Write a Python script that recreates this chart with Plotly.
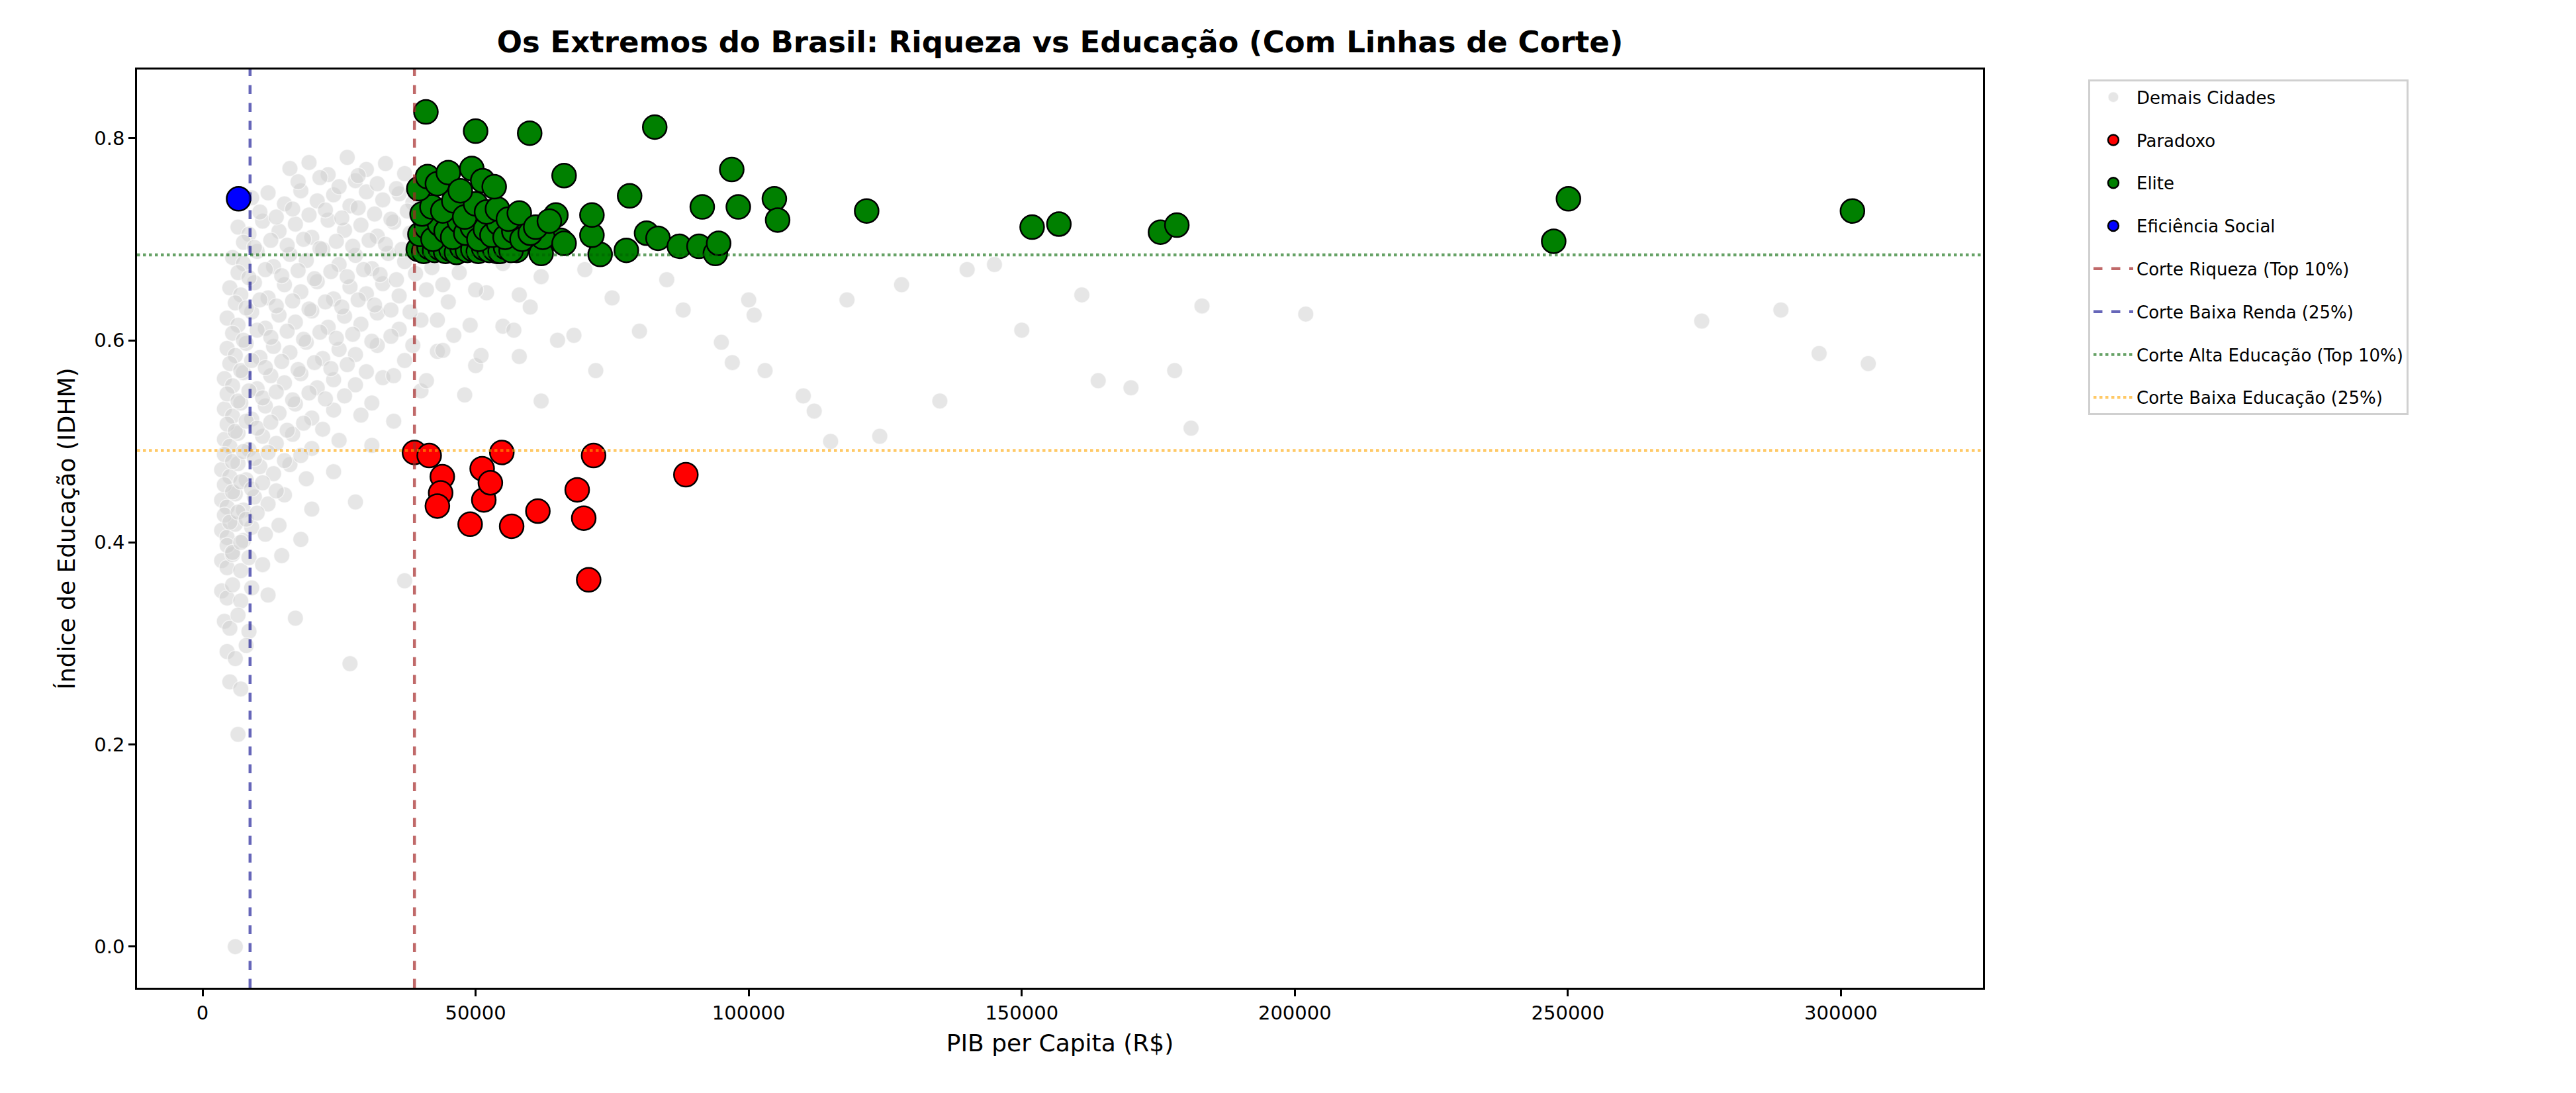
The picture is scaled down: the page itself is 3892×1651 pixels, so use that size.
import plotly.graph_objects as go

# ---- data ----
gray_x = [
 16000,19500,23000,26500,30000,33500,37000,28000,
 9000,12000,15000,18000,21000,24000,27000,30000,33000,36000,38500,
 6500,8500,11000,14000,17000,20000,23000,26000,29000,32000,35000,38000,
 5500,7500,10000,13000,16000,19000,22000,25000,28000,31000,34000,37000,42000,47000,55000,62000,70000,85000,
 5000,7000,9500,12000,15000,18000,21000,24000,27000,30000,33000,36000,41000,45000,52000,60000,75000,88000,100000,
 4500,6500,9000,11500,14000,17000,20000,23000,26000,29000,32000,36000,40000,46000,55000,65000,80000,95000,
 4500,6000,8000,10500,13000,16000,19000,22000,25000,28000,32000,37000,43000,50000,58000,72000,97000,
 4000,5500,7500,10000,12500,15000,18000,21000,24000,28000,33000,40000,48000,62000,
 4000,5500,7000,9000,11500,14000,17000,20000,24000,29000,35000,
 4000,5000,6500,8500,11000,13500,16500,20000,25000,31000,
 3500,5000,6500,8000,10500,13000,16000,19000,24000,
 3500,4500,6000,7500,9500,12000,15000,20000,28000,
 3500,4500,6000,7500,9000,11500,14000,18000,
 3500,4500,5500,7000,8500,11000,14500,37000,
 3500,4500,5500,7000,9000,12000,
 4000,5000,6500,8500,17000,
 4500,6000,8000,27000,
 5000,7000,6500,6000,
 274500,289000,296000,305000,202000,181000,178000,183000,170000,164000,161000,150000,
 135000,140000,124000,115000,112000,110000,101000,103000,118000,128000,145000,
 # denser core
 17500,21500,25000,28500,32000,35500,
 10500,13500,16500,19500,22500,25500,28500,31500,34500,37500,
 7500,9500,12500,15500,18500,21500,24500,27500,30500,33500,36500,
 6500,8500,11500,14500,17500,20500,23500,26500,29500,32500,35500,39000,44000,50000,58000,
 6000,8000,10500,13500,16500,19500,22500,25500,28500,31500,34500,38000,43000,49000,57000,68000,
 5500,7500,10000,12500,15500,18500,21500,24500,27500,31000,34500,38500,44000,51000,
 5000,7000,9000,11500,14500,17500,20500,23500,26500,30000,35000,41000,
 4500,6500,8500,11000,13500,16500,19500,22500,26000,31000,
 4500,6000,8000,10000,12500,15500,18500,22000,
 4000,5500,7500,9500,12000,15000,18000,
 4000,5500,7000,9000,11000,13500,
 4000,5000,6500,8000,10000,
 4500,5500,7000,
]
gray_y = [
 0.770,0.776,0.764,0.781,0.769,0.775,0.765,0.758,
 0.741,0.746,0.735,0.748,0.738,0.744,0.733,0.747,0.739,0.745,0.736,
 0.712,0.705,0.718,0.708,0.715,0.702,0.719,0.709,0.714,0.703,0.717,0.706,
 0.682,0.676,0.688,0.673,0.685,0.679,0.690,0.675,0.684,0.671,0.686,0.678,0.672,0.667,0.676,0.663,0.670,0.660,
 0.652,0.645,0.657,0.642,0.655,0.648,0.658,0.641,0.653,0.646,0.656,0.644,0.650,0.638,0.647,0.633,0.642,0.630,0.640,
 0.622,0.615,0.628,0.612,0.625,0.618,0.629,0.613,0.624,0.616,0.627,0.611,0.620,0.605,0.614,0.600,0.609,0.598,
 0.592,0.585,0.597,0.583,0.594,0.588,0.598,0.582,0.591,0.586,0.595,0.580,0.589,0.575,0.584,0.570,0.578,
 0.562,0.555,0.568,0.552,0.565,0.558,0.567,0.553,0.561,0.556,0.563,0.550,0.546,0.540,
 0.532,0.525,0.538,0.522,0.535,0.528,0.537,0.523,0.531,0.526,0.520,
 0.502,0.495,0.508,0.492,0.505,0.498,0.507,0.493,0.501,0.496,
 0.472,0.465,0.478,0.462,0.475,0.468,0.477,0.463,0.470,
 0.442,0.435,0.448,0.432,0.445,0.438,0.447,0.433,0.440,
 0.412,0.405,0.418,0.402,0.415,0.408,0.417,0.403,
 0.382,0.375,0.388,0.372,0.385,0.378,0.387,0.362,
 0.352,0.345,0.358,0.342,0.355,0.348,
 0.322,0.315,0.328,0.312,0.325,
 0.292,0.285,0.298,0.280,
 0.262,0.255,0.210,0.000,
 0.619,0.630,0.587,0.577,0.626,0.513,0.570,0.634,0.553,0.560,0.645,0.610,
 0.540,0.670,0.505,0.500,0.530,0.545,0.625,0.570,0.640,0.655,0.675,
 0.757,0.761,0.752,0.763,0.755,0.750,
 0.727,0.722,0.730,0.724,0.729,0.721,0.731,0.725,0.720,0.728,
 0.697,0.692,0.699,0.694,0.700,0.691,0.698,0.693,0.699,0.695,0.690,
 0.667,0.662,0.670,0.664,0.669,0.661,0.668,0.663,0.670,0.665,0.660,0.666,0.655,0.650,0.645,
 0.637,0.632,0.640,0.634,0.639,0.631,0.638,0.633,0.640,0.635,0.630,0.628,0.620,0.615,0.610,0.605,
 0.607,0.600,0.610,0.603,0.609,0.601,0.608,0.602,0.606,0.599,0.604,0.595,0.590,0.585,
 0.577,0.570,0.580,0.573,0.579,0.571,0.578,0.572,0.576,0.569,0.565,0.560,
 0.547,0.540,0.550,0.543,0.549,0.541,0.548,0.542,0.545,0.538,
 0.517,0.510,0.520,0.513,0.519,0.511,0.518,0.512,
 0.487,0.480,0.490,0.483,0.489,0.481,0.486,
 0.457,0.450,0.460,0.453,0.459,0.451,
 0.427,0.420,0.430,0.423,0.429,
 0.397,0.390,0.400,
]

paradoxo_x = [38800,41500,43900,43600,43000,49000,51500,51200,52700,54800,56600,61400,68600,69800,71600,70700,88500]
paradoxo_y = [0.489,0.486,0.465,0.449,0.436,0.418,0.442,0.473,0.459,0.489,0.416,0.431,0.452,0.424,0.486,0.363,0.467]

elite_x = [
 40900,50000,59900,82800,66200,78200,96900,91500,98100,104700,105300,121600,151900,156800,175400,178400,
 247400,250100,302100,
 81300,83400,77600,72800,71300,71300,87300,90900,93900,94500,65600,57500,62000,62300,64700,66200,53900,
 39500,40500,41500,42500,43500,44500,45500,46500,47500,48500,49500,50500,51500,52500,53500,54500,55500,56500,
 39800,41000,42200,43400,44600,45800,47000,48200,49400,50600,51800,53000,54200,55400,57000,58500,60000,
 40200,42000,44000,46000,48000,50000,52000,54000,56000,58000,61000,63500,
 39600,41200,43000,45000,47200,49300,51300,53400,
]
elite_y = [
 0.826,0.807,0.805,0.811,0.763,0.743,0.769,0.732,0.732,0.740,0.719,0.728,0.712,0.715,0.707,0.714,
 0.698,0.740,0.728,
 0.706,0.701,0.689,0.685,0.704,0.724,0.693,0.693,0.686,0.696,0.699,0.689,0.686,0.702,0.724,0.696,0.688,
 0.690,0.688,0.692,0.689,0.691,0.688,0.690,0.687,0.692,0.689,0.690,0.688,0.691,0.689,0.690,0.688,0.692,0.689,
 0.705,0.712,0.700,0.715,0.708,0.702,0.718,0.706,0.712,0.700,0.710,0.704,0.716,0.702,0.708,0.700,0.706,
 0.725,0.732,0.728,0.738,0.722,0.735,0.727,0.730,0.720,0.726,0.712,0.718,
 0.750,0.762,0.755,0.766,0.748,0.770,0.758,0.752,
]

eficiencia_x = [6600]
eficiencia_y = [0.740]

cut_riqueza = 38800
cut_baixa_renda = 8700
cut_alta_edu = 0.6846
cut_baixa_edu = 0.491

FONT = "DejaVu Sans"

fig = go.Figure()
fig.add_trace(go.Scatter(x=gray_x, y=gray_y, mode="markers", name="Demais Cidades", legendgroup="g0",
    marker=dict(size=24, color="rgba(205,205,205,0.5)", line=dict(color="rgba(255,255,255,0.6)", width=1.5))))
fig.add_trace(go.Scatter(x=paradoxo_x, y=paradoxo_y, mode="markers", name="Paradoxo", legendgroup="g1",
    marker=dict(size=36, color="red", line=dict(color="black", width=2.5))))
fig.add_trace(go.Scatter(x=elite_x, y=elite_y, mode="markers", name="Elite", legendgroup="g2",
    marker=dict(size=36, color="green", line=dict(color="black", width=2.5))))
fig.add_trace(go.Scatter(x=eficiencia_x, y=eficiencia_y, mode="markers", name="Eficiência Social", legendgroup="g3",
    marker=dict(size=36, color="blue", line=dict(color="black", width=2.5))))

cuts = [
 ("Corte Riqueza (Top 10%)", "rgba(165,42,42,0.7)", "dash", "v", cut_riqueza),
 ("Corte Baixa Renda (25%)", "rgba(0,0,139,0.6)", "dash", "v", cut_baixa_renda),
 ("Corte Alta Educação (Top 10%)", "rgba(0,100,0,0.6)", "dot", "h", cut_alta_edu),
 ("Corte Baixa Educação (25%)", "rgba(255,165,0,0.6)", "dot", "h", cut_baixa_edu),
]
for i, (name, col, dash, kind, val) in enumerate(cuts):
    if kind == "v":
        fig.add_shape(type="line", xref="x", yref="paper", x0=val, x1=val, y0=0, y1=1,
                      line=dict(color=col, dash=dash, width=4.5), layer="above")
    else:
        fig.add_shape(type="line", xref="paper", yref="y", x0=0, x1=1, y0=val, y1=val,
                      line=dict(color=col, dash=dash, width=4.5), layer="above")
    fig.add_trace(go.Scatter(x=[None], y=[None], mode="lines", name=name, legendgroup=f"c{i}",
                             line=dict(color=col, dash=dash, width=4.5)))

axis_common = dict(showgrid=False, zeroline=False, showline=True, linecolor="black", linewidth=2.5,
                   mirror=True, ticks="outside", ticklen=10, tickwidth=2.5, tickcolor="black",
                   tickfont=dict(family=FONT, size=29, color="black"))
fig.update_xaxes(range=[-12000, 326000], tickvals=[0,50000,100000,150000,200000,250000,300000],
                 tickformat="d", title=dict(text="PIB per Capita (R$)", font=dict(family=FONT, size=36, color="black"), standoff=18),
                 **axis_common)
fig.update_yaxes(range=[-0.0407, 0.868], tickvals=[0,0.2,0.4,0.6,0.8], tickformat=".1f",
                 title=dict(text="Índice de Educação (IDHM)", font=dict(family=FONT, size=36, color="black"), standoff=18),
                 **axis_common)

fig.update_layout(
    width=3892, height=1651,
    margin=dict(l=199, r=904, t=97, b=167),
    plot_bgcolor="white", paper_bgcolor="white",
    font=dict(family=FONT, color="black"),
    title=dict(text="<b>Os Extremos do Brasil: Riqueza vs Educação (Com Linhas de Corte)</b>",
               x=(199 + 2988) / 2 / 3892, xanchor="center", y=1 - 55 / 1651, yanchor="middle",
               font=dict(family=FONT, size=45, color="black")),
    legend=dict(x=1.057, y=0.989, xanchor="left", yanchor="top",
                font=dict(family=FONT, size=26, color="black"),
                bordercolor="#d0d0d0", borderwidth=3, bgcolor="white",
                itemsizing="trace", itemwidth=60, tracegroupgap=28),
    showlegend=True,
)

fig.write_html("out.html")
